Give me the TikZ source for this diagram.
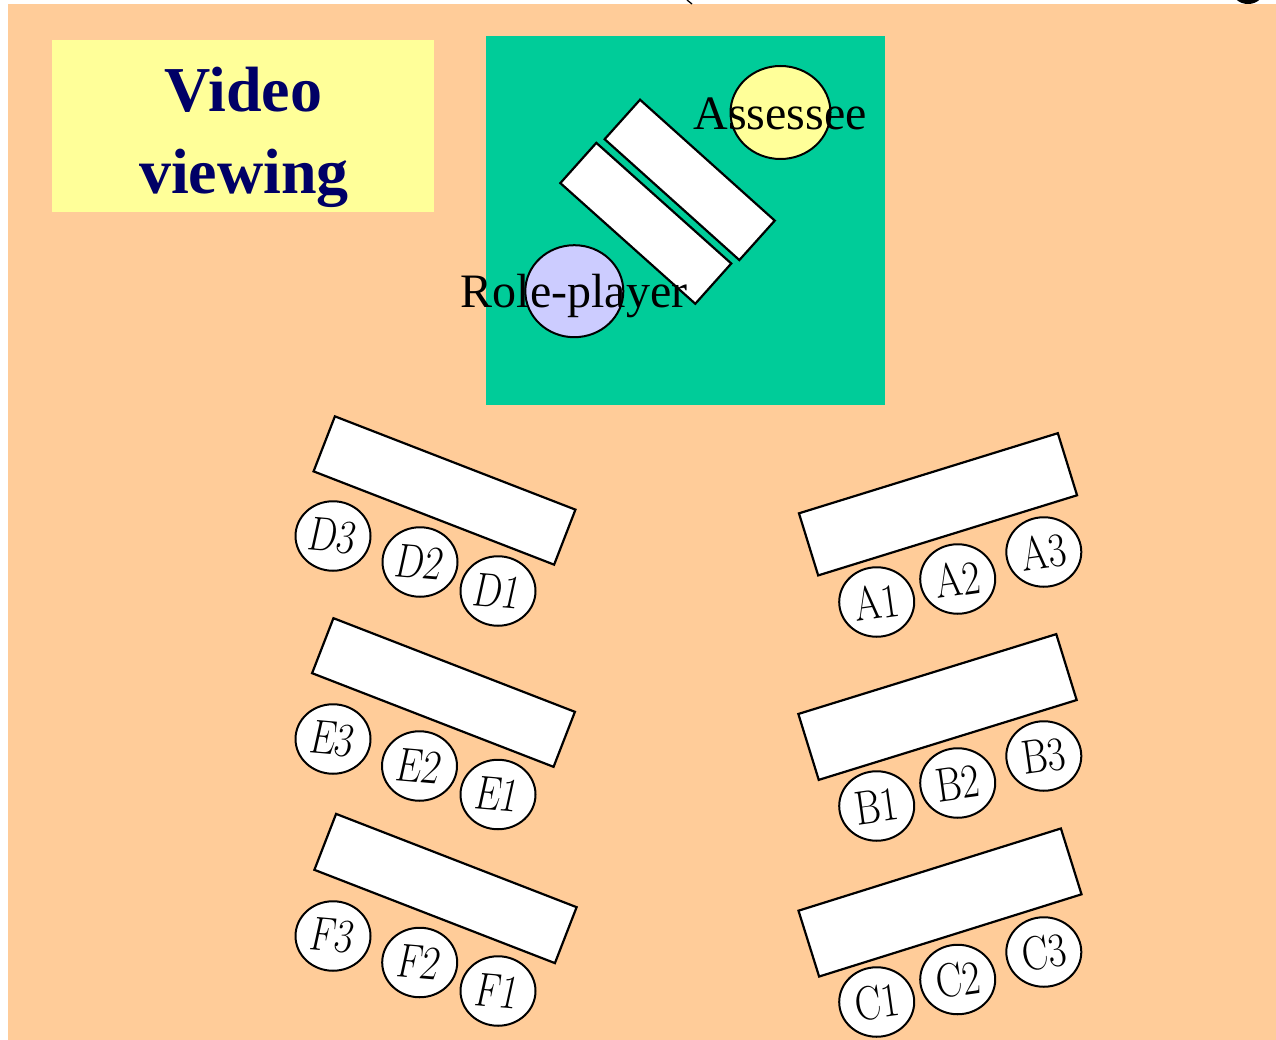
\documentclass[tikz,border=0pt]{standalone}
\usepackage{fontspec}
\usepackage{graphicx}
\newfontfamily\tms{Liberation Serif}
\usetikzlibrary{shapes.geometric}
\definecolor{peach}{HTML}{FFCC99}
\definecolor{stage}{HTML}{00CC99}
\definecolor{lemon}{HTML}{FFFF99}
\definecolor{lilac}{HTML}{CCCCFF}
\definecolor{navyink}{HTML}{000066}
\begin{document}
\begin{tikzpicture}[x=1pt,y=-1pt,
  desk/.style={rectangle, draw=black, fill=white, line width=2.2pt, inner sep=0pt},
  seat/.style={ellipse, draw=black, fill=white, line width=2pt, inner sep=0pt,
    minimum width=75pt, minimum height=69.5pt},
  lbl/.style={font=\fontsize{48}{48}\selectfont\addfontfeature{FakeBold=0.8}, inner sep=0pt},
  leftlbl/.style={label={[lbl, rotate=-5, xslant=0.13]center:\scalebox{0.82}[1]{#1}}},
  rightlbl/.style={label={[lbl, rotate=8]center:\scalebox{0.82}[1]{#1}}},
  bigtext/.style={font=\tms\fontsize{48}{48}\selectfont, inner sep=0pt, anchor=base},
  title/.style={font=\tms\bfseries\fontsize{64}{64}\selectfont, text=navyink, inner sep=0pt, anchor=base}]
\useasboundingbox (0,0) rectangle (1276,1040);
\fill[white] (0,0) rectangle (1276,1040);
% background
\fill[peach] (8,4) rectangle (1276,1040);
% top artifacts
\draw[line width=1.3pt] (687,0) -- (692,4);
\fill[black] (1248,-9) ellipse (15.5 and 13);
% title box
\fill[lemon] (52,40) rectangle (434,212.5);
\node[title] (vid1) at (243.5,111.7) {Video};
\node[title] (vid2) at (244,193.3) {viewing};
% stage
\fill[stage] (486,36) rectangle (885,405);
\node[desk, minimum width=181pt, minimum height=53pt, rotate=-41.9] (tU) at (689.7,179.9) {};
\node[desk, minimum width=181pt, minimum height=54pt, rotate=-41.8] (tL) at (645.8,223.3) {};
\node[ellipse, draw=black, fill=lemon, line width=2pt, inner sep=0pt, minimum width=100pt, minimum height=93pt] (ass) at (780.5,112.5) {};
\node[ellipse, draw=black, fill=lilac, line width=2pt, inner sep=0pt, minimum width=98pt, minimum height=92pt] (rp) at (574.3,291.2) {};
\node[bigtext] (asst) at (780,130) {Assessee};
\node[bigtext] (rpt) at (574,307.5) {Role-player};
% left tables
\node[desk, minimum width=258pt, minimum height=59pt, rotate=-21.2] (tD) at (444.5,490.5) {};
\node[desk, minimum width=259pt, minimum height=59pt, rotate=-21.2] (tE) at (443.5,692.5) {};
\node[desk, minimum width=258pt, minimum height=60pt, rotate=-21.2] (tF) at (445.5,888.5) {};
% right tables
\node[desk, minimum width=271pt, minimum height=65pt, rotate=17.2] (tA) at (938,504.3) {};
\node[desk, minimum width=270pt, minimum height=69pt, rotate=17.2] (tB) at (937.5,707) {};
\node[desk, minimum width=275pt, minimum height=69pt, rotate=17.4] (tC) at (940,902.5) {};
% seats left
\node[seat, leftlbl=D3] (D3) at (333,536) {};
\node[seat, leftlbl=D2] (D2) at (420,562) {};
\node[seat, leftlbl=D1] (D1) at (498,591) {};
\node[seat, leftlbl=E3] (E3) at (333,739) {};
\node[seat, leftlbl=E2] (E2) at (419.5,766) {};
\node[seat, leftlbl=E1] (E1) at (498,794.5) {};
\node[seat, leftlbl=F3] (F3) at (333,936) {};
\node[seat, leftlbl=F2] (F2) at (419.7,962.5) {};
\node[seat, leftlbl=F1] (F1) at (498,991) {};
% seats right
\node[seat, rightlbl=A1] (A1) at (876.7,602) {};
\node[seat, rightlbl=A2] (A2) at (957.7,579) {};
\node[seat, rightlbl=A3] (A3) at (1043.8,552) {};
\node[seat, rightlbl=B1] (B1) at (876.7,806) {};
\node[seat, rightlbl=B2] (B2) at (957.7,783) {};
\node[seat, rightlbl=B3] (B3) at (1043.8,756) {};
\node[seat, rightlbl=C1] (C1) at (876.7,1002) {};
\node[seat, rightlbl=C2] (C2) at (957.7,979.5) {};
\node[seat, rightlbl=C3] (C3) at (1043.8,952) {};
\end{tikzpicture}
\end{document}
